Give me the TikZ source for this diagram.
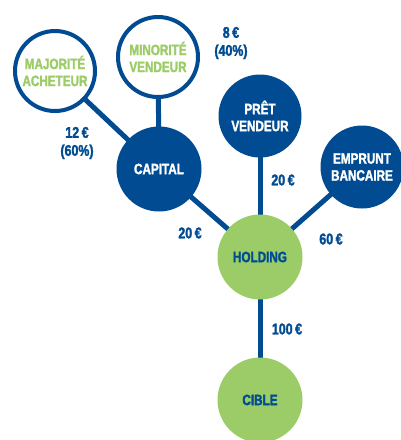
\documentclass[tikz,border=0pt]{standalone}
\usepackage{fontspec}
\newfontfamily\circfont{Liberation Sans Bold}[FakeStretch=0.78,FakeBold=1.8]
\newfontfamily\lblfont{Liberation Sans Bold}[FakeStretch=0.8,FakeBold=1.8]
\definecolor{dblue}{HTML}{004B91}
\definecolor{lgreen}{HTML}{9BCC68}
\begin{document}
\begin{tikzpicture}[x=1pt,y=-1pt,
  base/.style={circle,minimum size=80pt,inner sep=0pt,align=center,font=\circfont\fontsize{15}{17}\selectfont},
  bluec/.style={base,fill=dblue,text=white},
  greenc/.style={base,fill=lgreen,text=dblue},
  whitec/.style={base,fill=white,draw=dblue,line width=4pt,minimum size=80pt,text=lgreen},
  link/.style={draw=dblue,line width=5pt},
  lbl/.style={text=dblue,align=center,font=\lblfont\fontsize{15.5}{18}\selectfont}]
\useasboundingbox (0,0) rectangle (400,440);
\coordinate (majc) at (55,71);
\coordinate (minc) at (158,57);
\coordinate (capc) at (159,169);
\coordinate (pretc) at (260,116);
\coordinate (empc) at (362,167);
\coordinate (holc) at (260,257);
\coordinate (cibc) at (260,400);
\draw[link] (majc) -- (capc);
\draw[link] (minc) -- (capc);
\draw[link] (capc) -- (holc);
\draw[link] (pretc) -- (holc);
\draw[link] (empc) -- (holc);
\draw[link] (holc) -- (cibc);
\node[whitec] (maj) at (majc) {MAJORITÉ\\ACHETEUR};
\node[whitec] (min) at (minc) {MINORITÉ\\VENDEUR};
\node[bluec,minimum size=85pt] (cap) at (capc) {CAPITAL};
\node[bluec,minimum size=83pt] (pret) at (pretc) {PRÊT\\VENDEUR};
\node[bluec,minimum size=83pt] (emp) at (empc) {EMPRUNT\\BANCAIRE};
\node[greenc,minimum size=85pt] (hol) at (holc) {HOLDING};
\node[greenc,minimum size=85pt] (cib) at (cibc) {CIBLE};
\node[lbl] (l1) at (231,43) {8\,€\\(40\%)};
\node[lbl] (l2) at (77,143) {12\,€\\(60\%)};
\node[lbl] (l3) at (283,180) {20\,€};
\node[lbl] (l4) at (190,233) {20\,€};
\node[lbl] (l5) at (331,239) {60\,€};
\node[lbl] (l6) at (287,329) {100\,€};
\end{tikzpicture}
\end{document}
